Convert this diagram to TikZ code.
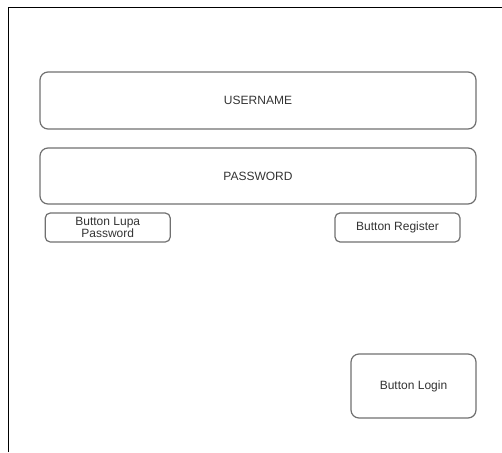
\documentclass[tikz,border=0pt]{standalone}
\usepackage{fontspec}
\setmainfont{Liberation Sans}
\definecolor{boxgray}{HTML}{707070}
\definecolor{txtgray}{HTML}{333333}
\begin{document}
\begin{tikzpicture}[x=1pt,y=-1pt,
  ui/.style={draw=boxgray, line width=1.2pt, inner sep=0pt, text=txtgray,
    font=\fontsize{12}{12}\selectfont, align=center},
  field/.style={ui, rounded corners=8pt, minimum width=436pt},
  smallbtn/.style={ui, rounded corners=5pt, minimum width=125pt, minimum height=29pt},
  bigbtn/.style={ui, rounded corners=8pt, minimum width=125pt, minimum height=64pt}]
  \useasboundingbox (0,0) rectangle (502,452);
  % window frame (top and left edges)
  \coordinate (fbl) at (8.5,452);
  \coordinate (ftl) at (8.5,7.5);
  \coordinate (ftr) at (502,7.5);
  \draw[line width=1.5pt, black] (fbl) -- (ftl) -- (ftr);
  % input fields
  \node[field, minimum height=57pt] (user) at (258,100.5) {USERNAME};
  \node[field, minimum height=56pt] (pass) at (258,176) {PASSWORD};
  % buttons
  \node[smallbtn] (lupa) at (107.75,227.5) {Button Lupa\\Password};
  \node[smallbtn] (reg) at (397.5,227.5) {Button Register};
  \node[bigbtn] (login) at (413.5,386) {Button Login};
\end{tikzpicture}
\end{document}
